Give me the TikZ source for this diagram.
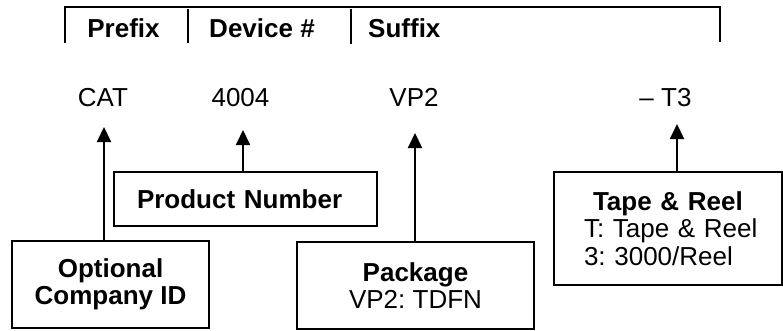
\documentclass[tikz,border=0pt]{standalone}
\usepackage{fontspec}
\setmainfont{Liberation Sans}
\usetikzlibrary{arrows.meta}
\frenchspacing
\tikzset{
  lbl/.style={inner sep=0pt, anchor=base, font=\fontsize{26}{27.5}\selectfont},
  hdr/.style={lbl, font=\fontsize{26}{27.5}\selectfont\bfseries},
  infobox/.style={draw, line width=1.8pt, inner sep=0pt, font=\fontsize{26}{27.5}\selectfont},
  arr/.style={line width=1.9pt, -{Triangle[length=15pt,width=14pt]}},
  brk/.style={line width=1.8pt}
}
\begin{document}
\begin{tikzpicture}[x=1pt,y=-1pt]
\frenchspacing
\useasboundingbox (0,0) rectangle (783,330);
% header bracket
\draw[brk] (65,43) -- (65,7) -- (720,7) -- (720,42);
\draw[brk] (188,9) -- (188,43);
\draw[brk] (351,9) -- (351,44);
\node[hdr] (hpre) at (123.5,37) {Prefix};
\node[hdr] (hdev) at (262,37) {Device \#};
\node[hdr, anchor=base west] (hsuf) at (368,37) {Suffix};
% part number
\node[lbl] (cat) at (103,106) {CAT};
\node[lbl] (num) at (240.5,106) {4004};
\node[lbl] (pkg) at (414,106) {VP2};
\node[lbl] (tr) at (665.5,106) {– T3};
% boxes
\node[infobox, minimum width=197pt, minimum height=87pt, align=center] (cid) at (110.5,284.5)
  {\textbf{Optional}\\\textbf{Company ID}};
\node[infobox, minimum width=263pt, minimum height=54pt, text width=263pt, align=left] (pn) at (245.5,199)
  {\hspace*{23pt}\textbf{Product Number}};
\node[infobox, minimum width=237pt, minimum height=87pt, align=center] (pk) at (415.5,285.5)
  {\textbf{Package}\\VP2: TDFN};
\node[infobox, minimum width=228pt, minimum height=113pt, text width=228pt, align=left] (tp) at (668,228.5)
  {\hspace*{39pt}\textbf{Tape \& Reel}\\\hspace*{30pt}T: Tape \& Reel\\\hspace*{30pt}3: 3000/Reel};
% arrows
\coordinate (ta) at (104,127);
\coordinate (tb) at (243,130);
\coordinate (tc) at (415,133);
\coordinate (td) at (677,124);
\draw[arr] (cid.north -| ta) -- (ta);
\draw[arr] (pn.north -| tb) -- (tb);
\draw[arr] (pk.north -| tc) -- (tc);
\draw[arr] (tp.north -| td) -- (td);
\end{tikzpicture}
\end{document}
